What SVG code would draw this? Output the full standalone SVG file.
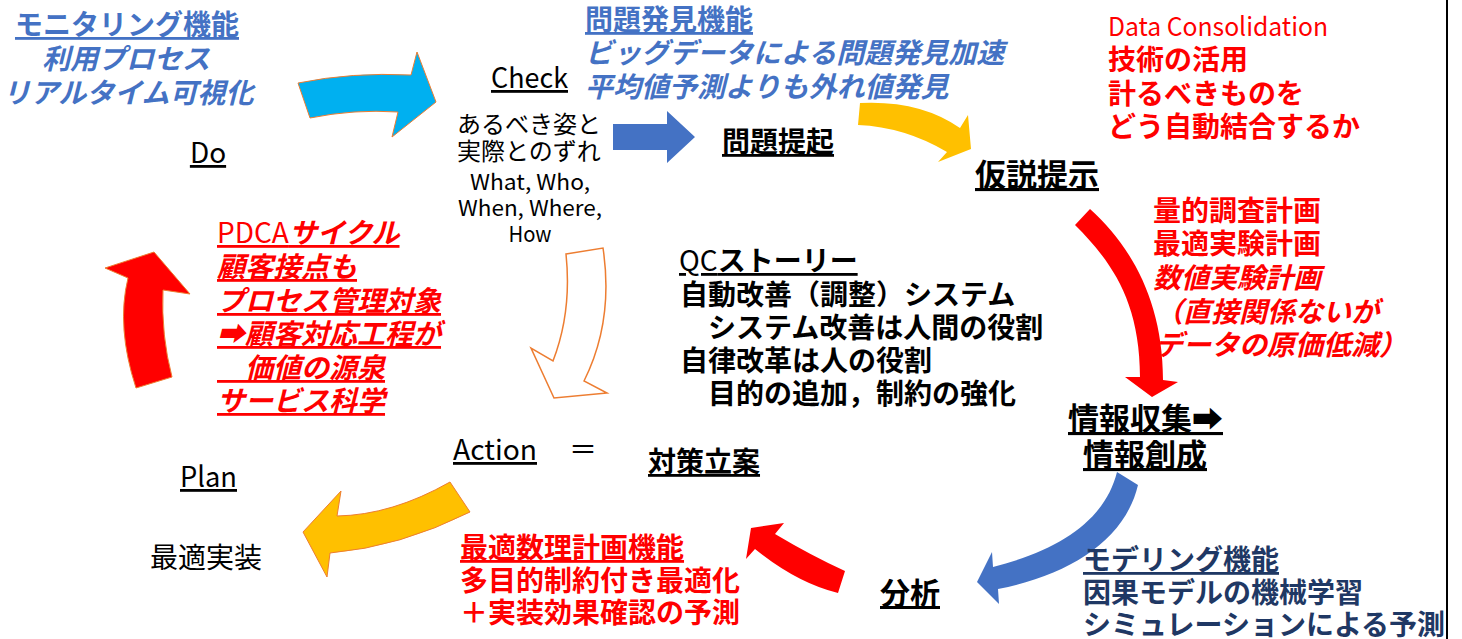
<svg xmlns="http://www.w3.org/2000/svg" width="1462" height="639" viewBox="0 0 1462 639">
<style>
text { font-family: "Noto Sans CJK JP", "Noto Sans", "DejaVu Sans", sans-serif; font-size: 28px; }
.b { font-weight: 700; }
.i { font-style: italic; }
.u { text-decoration: underline; }
.blue { fill: #4472C4; }
.red { fill: #FF0000; }
.navy { fill: #1F3864; }
.k { fill: #000000; }
.m { text-anchor: middle; }
.s24 { font-size: 24px; }
.s22 { font-size: 22px; }
.s31 { font-size: 31px; }
.s30 { font-size: 30px; }
</style>
<rect width="1462" height="639" fill="#ffffff"/>
<line x1="1447" y1="0" x2="1447" y2="639" stroke="#000" stroke-width="2"/>

<g id="connectors">
  <path id="arrow-do-check" d="M298,83 Q352,72 411,75 L417,52 L436,102 L392,137 L398,112 Q354,109 310,118 Z" fill="#00B0F0" stroke="#ED7D31" stroke-width="1"/>
  <path id="arrow-check-teiki" d="M613,124 H667 V111 L695,137 L667,163 V150 H613 Z" fill="#4472C4"/>
  <path id="arrow-teiki-kasetsu" d="M860,103 Q920,100 960,128 L968,115 L971,149 L938,162 L947,152 Q905,127 858,125 Z" fill="#FFC000"/>
  <path id="arrow-kasetsu-joho" d="M1090,209 C1130,245 1163,300 1163,380 L1178,382 L1152,397 L1125,377 L1140,377 C1140,300 1110,260 1075,225 Z" fill="#FF0000"/>
  <path id="arrow-joho-bunseki" d="M1138,485 C1125,540 1070,575 998,589 L999,604 L977,582 L992,552 L993,567 C1060,550 1105,520 1117,472 Z" fill="#4472C4"/>
  <path id="arrow-bunseki-suri" d="M845,571 Q812,556 775,534 L784,523 L751,528 L746,559 L755,549 Q797,583 838,593 Z" fill="#FF0000"/>
  <path id="arrow-action-plan" d="M450,482 Q392,515 337,516 L341,491 L303,532 L327,577 L330,553 Q400,547 470,512 Z" fill="#FFC000" stroke="#ED7D31" stroke-width="1"/>
  <path id="arrow-plan-do" d="M136,388 Q116,327 128,278 L105,268 L154,252 L190,294 L163,290 Q161,335 172,377 Z" fill="#FF0000" stroke="#ED7D31" stroke-width="1"/>
  <path id="arrow-check-action" d="M566,254 L603,248 Q614,321 584,381 L607,393 L554,398 L531,348 L553,361 Q572,312 566,254 Z" fill="none" stroke="#ED7D31" stroke-width="1.5"/>
</g>

<g id="monitoring">
  <text class="blue b u m" x="127" y="35">モニタリング機能</text>
  <text class="blue b i m" x="126" y="69">利用プロセス</text>
  <text class="blue b i m" x="128" y="103">リアルタイム可視化</text>
</g>
<g id="do"><text class="k u m" x="208" y="163">Do</text></g>

<g id="check">
  <text class="k u" x="491" y="88" textLength="77" lengthAdjust="spacingAndGlyphs">Check</text>
  <text class="k m s24" x="529" y="133">あるべき姿と</text>
  <text class="k m s24" x="529" y="160">実際とのずれ</text>
  <text class="k m s22" x="530" y="190" textLength="120" lengthAdjust="spacingAndGlyphs">What, Who,</text>
  <text class="k m s22" x="530" y="216" textLength="144" lengthAdjust="spacingAndGlyphs">When, Where,</text>
  <text class="k m s22" x="530" y="242" textLength="43" lengthAdjust="spacingAndGlyphs">How</text>
</g>

<g id="mondai-hakken">
  <text class="blue b u" x="585" y="30">問題発見機能</text>
  <text class="blue b i" x="585" y="63">ビッグデータによる問題発見加速</text>
  <text class="blue b i" x="585" y="97">平均値予測よりも外れ値発見</text>
</g>
<g id="mondai-teiki"><text class="k b u" x="722" y="152">問題提起</text></g>

<g id="kasetsu"><text class="k b u s31" x="975" y="186">仮説提示</text></g>

<g id="data-consolidation">
  <text class="red" x="1108" y="36" style="font-size:26px" textLength="220" lengthAdjust="spacingAndGlyphs">Data Consolidation</text>
  <text class="red b" x="1108" y="70">技術の活用</text>
  <text class="red b" x="1108" y="104">計るべきものを</text>
  <text class="red b" x="1108" y="137">どう自動結合するか</text>
</g>

<g id="keikaku">
  <text class="red b" x="1153" y="221">量的調査計画</text>
  <text class="red b" x="1153" y="254">最適実験計画</text>
  <text class="red b i" x="1153" y="288">数値実験計画</text>
  <text class="red b i" x="1155" y="322">（直接関係ないが</text>
  <text class="red b i" x="1155" y="355">データの原価低減）</text>
</g>

<g id="joho">
  <text class="k b u s31" x="1068" y="430">情報収集➡</text>
  <text class="k b u s31" x="1083" y="466">情報創成</text>
</g>

<g id="modeling">
  <text class="navy b u" x="1083" y="570">モデリング機能</text>
  <text class="navy b" x="1083" y="603">因果モデルの機械学習</text>
  <text class="navy b" x="1083" y="635">シミュレーションによる予測</text>
</g>

<g id="bunseki"><text class="k b u s30" x="880" y="604">分析</text></g>

<g id="suri">
  <text class="red b u" x="460" y="558">最適数理計画機能</text>
  <text class="red b" x="460" y="591">多目的制約付き最適化</text>
  <text class="red b" x="460" y="623">＋実装効果確認の予測</text>
</g>

<g id="action">
  <text class="k u" x="453" y="460" textLength="84" lengthAdjust="spacingAndGlyphs">Action</text>
  <text class="k" x="569" y="460">＝</text>
</g>
<g id="taisaku"><text class="k b u" x="648" y="472">対策立案</text></g>

<g id="plan"><text class="k u" x="180" y="487" textLength="57" lengthAdjust="spacingAndGlyphs">Plan</text></g>
<g id="saiteki-jisso"><text class="k" x="150" y="568">最適実装</text></g>

<g id="qc-story">
  <text class="k u" x="679" y="271"><tspan>QC</tspan><tspan class="b">ストーリー</tspan></text>
  <text class="k b" x="680" y="305">自動改善（調整）システム</text>
  <text class="k b" x="708" y="338">システム改善は人間の役割</text>
  <text class="k b" x="680" y="371">自律改革は人の役割</text>
  <text class="k b" x="708" y="404">目的の追加，制約の強化</text>
</g>

<g id="pdca">
  <text class="red u" x="217" y="243"><tspan>PDCA</tspan><tspan class="b i">サイクル</tspan></text>
  <text class="red b i u" x="217" y="277">顧客接点も</text>
  <text class="red b i u" x="217" y="311">プロセス管理対象</text>
  <text class="red b i u" x="217" y="344">➡顧客対応工程が</text>
  <text class="red b i u" x="217" y="378">　価値の源泉</text>
  <text class="red b i u" x="217" y="411">サービス科学</text>
</g>
</svg>
